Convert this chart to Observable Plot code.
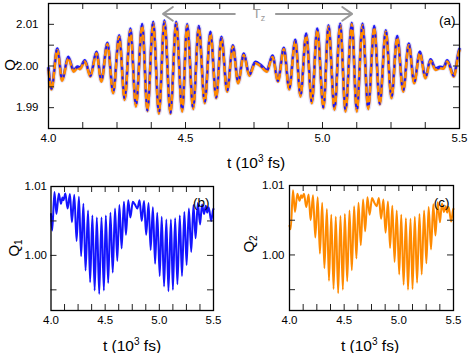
<!DOCTYPE html>
<html><head><meta charset="utf-8">
<script src="https://cdn.jsdelivr.net/npm/d3@7"></script>
<script src="https://cdn.jsdelivr.net/npm/@observablehq/plot@0.6"></script>
<style>
body{margin:0;background:#fff;}
#root{position:relative;width:471px;height:353px;font-family:"Liberation Sans",Arial,sans-serif;color:#000;overflow:hidden;}
.abs{position:absolute;}
.lbl{position:absolute;white-space:nowrap;transform:translate(-50%,-50%);line-height:1;}
.rot{transform:translate(-50%,-50%) rotate(-90deg);}
</style>
</head><body>
<div id="root">
  <div id="pa" class="abs" style="left:0;top:0"></div>
  <div id="pb" class="abs" style="left:0;top:175px"></div>
  <div id="pc" class="abs" style="left:235px;top:175px"></div>
  <div class="lbl rot" style="left:9px;top:65px;font-size:15px">Q</div>
  <div class="lbl" style="left:256px;top:162px;font-size:15.5px">t (10<sup style="font-size:10px;vertical-align:6px">3</sup> fs)</div>
  <div class="lbl" style="left:259px;top:15px;font-size:13px;color:#999">T<sub style="font-size:9px;vertical-align:-3px">z</sub></div>
  <div class="lbl rot" style="left:15px;top:248px;font-size:15px">Q<sub style="font-size:10px;vertical-align:-3px">1</sub></div>
  <div class="lbl" style="left:132px;top:345px;font-size:15.5px">t (10<sup style="font-size:10px;vertical-align:6px">3</sup> fs)</div>
  <div class="lbl rot" style="left:250px;top:244px;font-size:15px">Q<sub style="font-size:10px;vertical-align:-3px">2</sub></div>
  <div class="lbl" style="left:370px;top:345px;font-size:15.5px">t (10<sup style="font-size:10px;vertical-align:6px">3</sup> fs)</div>
</div>
<script>
// ---- data (times in 10^3 fs) ----
const times = [4.000,4.011,4.032,4.050,4.072,4.092,4.106,4.115,4.1325,4.153,4.175,4.193,4.215,4.236,4.258,4.278,4.299,4.319,4.342,4.361,4.382,4.403,4.423,4.445,4.466,4.488,4.506,4.528,4.5485,4.570,4.591,4.612,4.631,4.652,4.673,4.692,4.713,4.7325,4.755,4.774,4.797,4.8175,4.8376,4.8588,4.8785,4.9007,4.9197,4.9405,4.961,4.9807,5.0036,5.0219,5.0438,5.0646,5.0839,5.1069,5.1252,5.146,5.1668,5.1887,5.2091,5.231,5.2518,5.2726,5.2945,5.315,5.3347,5.3551,5.3759,5.3942,5.4124,5.4288,5.4416,5.4551,5.4792,5.4982,5.500];
const Q = [1.9993,1.9945,2.0040,1.9966,2.0020,1.9988,1.9997,1.9994,2.0012,1.9976,2.0032,1.9964,2.0054,1.9936,2.0072,1.9920,2.0088,1.9904,2.0099,1.9893,2.0104,1.9887,2.0107,1.9887,2.0104,1.9892,2.0099,1.9898,2.0094,1.9912,2.0080,1.9924,2.0068,1.9940,2.0048,1.9960,2.0028,1.9978,2.0008,2.0001,1.9988,2.0023,1.9964,2.0042,1.9945,2.0061,1.9928,2.0076,1.9912,2.0088,1.9900,2.0096,1.9896,2.0100,1.9892,2.0102,1.9892,2.0100,1.9898,2.0094,1.9909,2.0084,1.9924,2.0070,1.9940,2.0052,1.9960,2.0032,1.9972,2.0014,1.9992,1.9996,1.9995,2.0012,1.9976,2.0036,2.0039];
const Q1 = [1.0060,1.0036,1.0092,1.0060,1.0090,1.0075,1.0084,1.0080,1.0090,1.0068,1.0089,1.0048,1.0088,1.0021,1.0085,0.9999,1.0075,0.9978,1.0065,0.9961,1.0058,0.9949,1.0055,0.9944,1.0055,0.9949,1.0058,0.9960,1.0062,0.9975,1.0068,0.9992,1.0073,1.0010,1.0078,1.0030,1.0080,1.0055,1.0078,1.0074,1.0068,1.0080,1.0050,1.0079,1.0030,1.0076,1.0008,1.0070,0.9988,1.0062,0.9970,1.0056,0.9955,1.0052,0.9948,1.0052,0.9950,1.0054,0.9958,1.0058,0.9970,1.0063,0.9986,1.0068,1.0005,1.0073,1.0025,1.0076,1.0045,1.0074,1.0060,1.0072,1.0062,1.0070,1.0050,1.0068,1.0067];
const Q2 = [1.0042,1.0037,1.0093,1.0062,1.0088,1.0078,1.0086,1.0082,1.0088,1.0069,1.0087,1.0050,1.0086,1.0025,1.0083,1.0002,1.0075,0.9981,1.0066,0.9963,1.0058,0.9951,1.0055,0.9945,1.0056,0.9950,1.0059,0.9962,1.0064,0.9978,1.0070,0.9995,1.0075,1.0014,1.0080,1.0034,1.0083,1.0058,1.0082,1.0076,1.0070,1.0082,1.0052,1.0080,1.0032,1.0077,1.0010,1.0071,0.9990,1.0064,0.9972,1.0058,0.9957,1.0053,0.9950,1.0052,0.9951,1.0055,0.9960,1.0059,0.9972,1.0064,0.9988,1.0069,1.0008,1.0073,1.0028,1.0076,1.0047,1.0074,1.0062,1.0070,1.0061,1.0069,1.0048,1.0067,1.0066];

const xTicks = [4.125,4.25,4.375,4.5,4.625,4.75,4.875,5.0,5.125,5.25,5.375];
const xTickLabels = [4.0,4.5,5.0,5.5];
const yTicksA = [1.99,1.995,2.0,2.005,2.01];
const yLabelsA = [1.99,2.00,2.01];
const yTicksB = [0.995,1.0,1.005];
const yLabelsB = [1.00,1.01];
const tzArrowFrom = [4.68,4.83];
const tzArrowTo = [4.418,5.108];
const tzLevel = 2.0125;
const panelTags = ["(a)","(b)","(c)"];

const dataA = times.map((t,i)=>({t, q:Q[i]}));
const dataB = times.map((t,i)=>({t, q:Q1[i]}));
const dataC = times.map((t,i)=>({t, q:Q2[i]}));
const arrows = tzArrowFrom.map((a,i)=>({x1:a, x2:tzArrowTo[i], y:tzLevel}));

const FONT = "Liberation Sans, Arial, sans-serif";
const BLUE = "#1414ff", ORANGE = "#ff8a00";

function frameMarks(innerW, innerH, yTicks, yLabels, fmt, labelDx, tag, tagDx, tagDy, tickLen){
  return [
    Plot.tickX(xTicks, {x:d=>d, insetTop: innerH - tickLen, stroke:"#222", strokeWidth:1}),
    Plot.tickX(xTicks, {x:d=>d, insetBottom: innerH - tickLen, stroke:"#222", strokeWidth:1}),
    Plot.tickY(yTicks, {y:d=>d, insetRight: innerW - tickLen, stroke:"#222", strokeWidth:1}),
    Plot.tickY(yTicks, {y:d=>d, insetLeft: innerW - tickLen, stroke:"#222", strokeWidth:1}),
    Plot.frame({stroke:"#000", strokeWidth:1.3}),
    Plot.text(xTickLabels, {x:d=>d, text:d=>d.toFixed(1), frameAnchor:"bottom", dy:13, fontSize:11.5, fill:"#000"}),
    Plot.text(yLabels, {y:d=>d, text:d=>d.toFixed(2), frameAnchor:"left", dx:labelDx, textAnchor:"end", fontSize:11.5, fill:"#000"}),
    Plot.text([tag], {text:d=>d, frameAnchor:"top-right", dx:tagDx, dy:tagDy, textAnchor:"end", fontSize:13.5, fill:"#000"})
  ];
}

const pa = Plot.plot({
  width:471, height:175, marginTop:3, marginBottom:47, marginLeft:48, marginRight:12,
  x:{domain:[4.0,5.5], axis:null}, y:{domain:[1.985,2.015], axis:null},
  style:{fontFamily:FONT, background:"transparent", overflow:"visible"},
  marks:[
    Plot.line(dataA, {x:"t", y:"q", stroke:"#c9c2f0", strokeWidth:5, strokeOpacity:0.55, curve:"monotone-x"}),
    Plot.line(dataA, {x:"t", y:"q", stroke:BLUE, strokeWidth:2.6, curve:"monotone-x", dy:-0.8}),
    Plot.line(dataA, {x:"t", y:"q", stroke:ORANGE, strokeWidth:2.6, curve:"monotone-x", dy:0.6}),
    Plot.line(dataA, {x:"t", y:"q", stroke:BLUE, strokeWidth:1.8, strokeDasharray:"1.6,8", curve:"monotone-x"}),
    Plot.arrow(arrows, {x1:"x1", x2:"x2", y1:"y", y2:"y", stroke:"#9a9a9a", strokeWidth:2, headLength:9, headAngle:70}),
    ...frameMarks(411, 125, yTicksA, yLabelsA, ".2f", -10, panelTags[0], -4, 12, 6)
  ]
});
document.getElementById("pa").appendChild(pa);

const pb = Plot.plot({
  width:235, height:178, marginTop:11, marginBottom:43, marginLeft:50.5, marginRight:22,
  x:{domain:[4.0,5.5], axis:null}, y:{domain:[0.992,1.010], axis:null},
  style:{fontFamily:FONT, background:"transparent", overflow:"visible"},
  marks:[
    Plot.line(dataB, {x:"t", y:"q", stroke:BLUE, strokeWidth:2, curve:"monotone-x"}),
    ...frameMarks(162.5, 124, yTicksB, yLabelsB, ".2f", -4, panelTags[1], -4, 11, 6)
  ]
});
document.getElementById("pb").appendChild(pb);

const pc = Plot.plot({
  width:236, height:178, marginTop:10, marginBottom:43, marginLeft:54, marginRight:18,
  x:{domain:[4.0,5.5], axis:null}, y:{domain:[0.992,1.010], axis:null},
  style:{fontFamily:FONT, background:"transparent", overflow:"visible"},
  marks:[
    Plot.line(dataC, {x:"t", y:"q", stroke:ORANGE, strokeWidth:2, curve:"monotone-x"}),
    ...frameMarks(164, 125, yTicksB, yLabelsB, ".2f", -5, panelTags[2], -4, 12, 6)
  ]
});
document.getElementById("pc").appendChild(pc);
</script>
</body></html>
